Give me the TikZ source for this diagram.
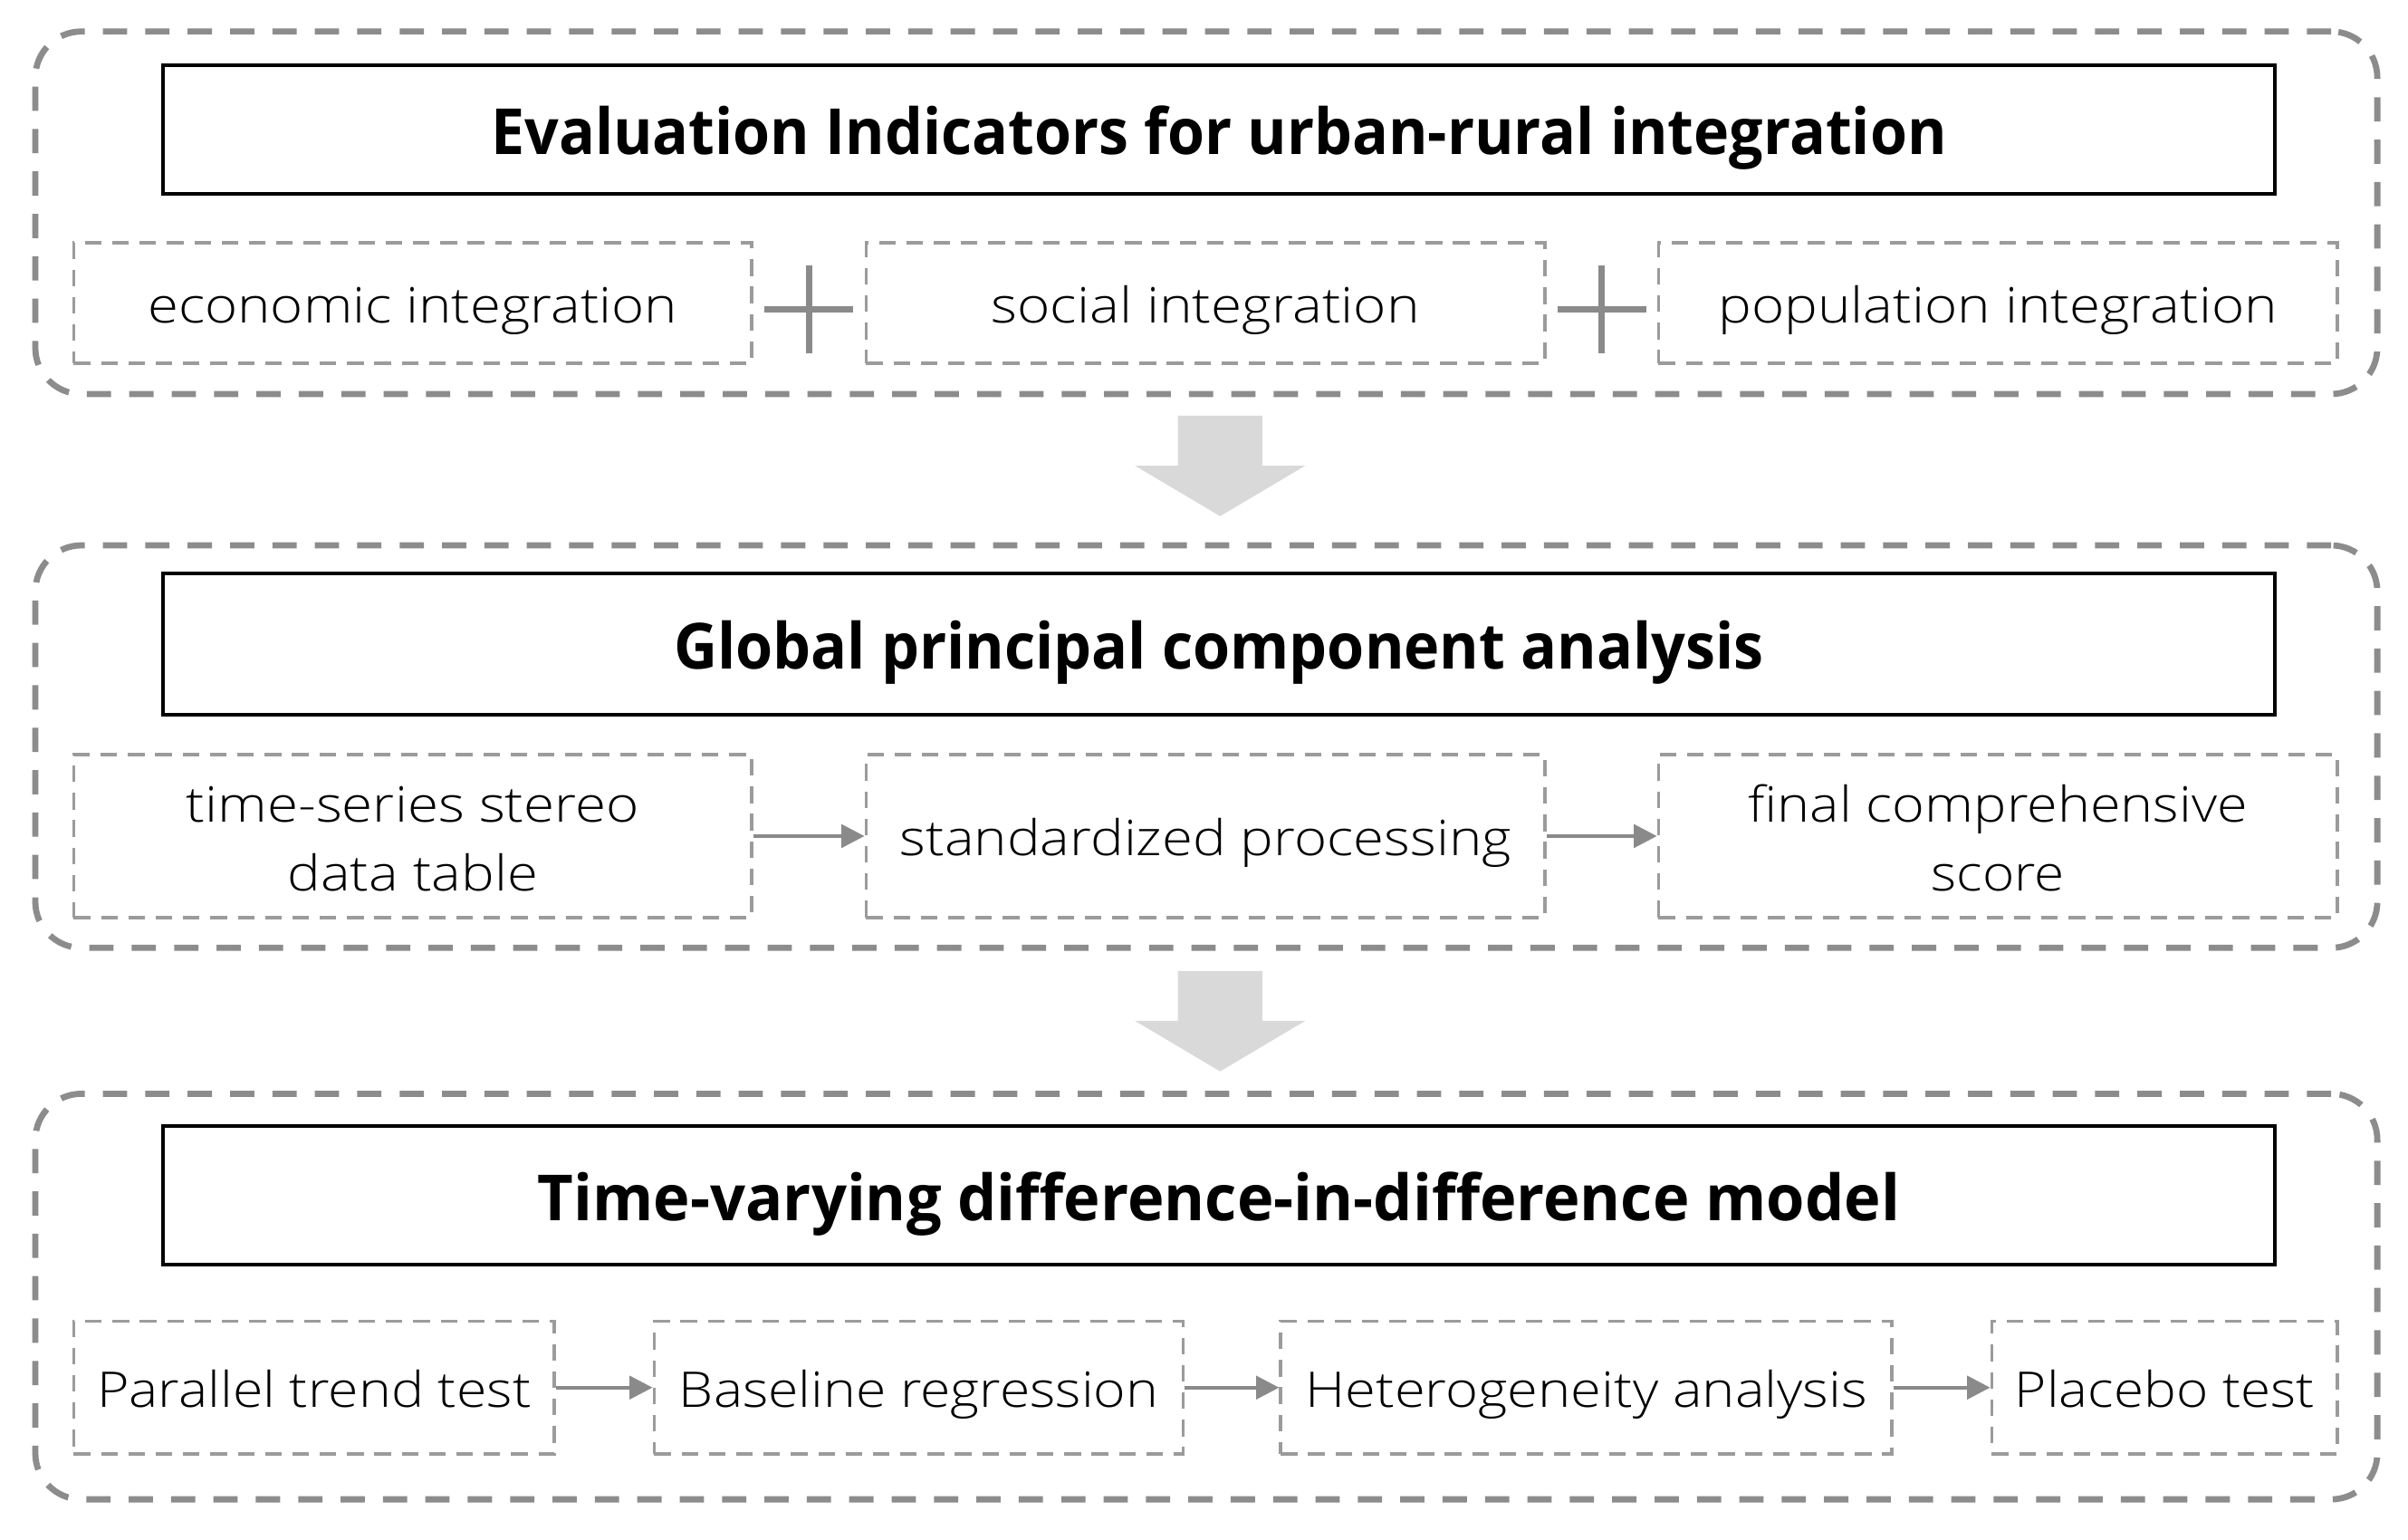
\documentclass[tikz,border=0pt]{standalone}
\usepackage{fontspec}
\IfFontExistsTF{Noto Sans Light}{\setmainfont{Noto Sans Light}}{%
  \IfFontExistsTF{Open Sans Light}{\setmainfont{Open Sans Light}}{\setmainfont{Noto Sans}}}
\IfFontExistsTF{Noto Sans Bold}{\newfontfamily\titlefont{Noto Sans Bold}}{%
  \IfFontExistsTF{Open Sans Bold}{\newfontfamily\titlefont{Open Sans Bold}}{%
    \IfFontExistsTF{Fira Sans Bold}{\newfontfamily\titlefont{Fira Sans Bold}}{%
      \newfontfamily\titlefont{Noto Sans}[FakeBold=2.2]}}}
\usepackage{graphicx}
\usetikzlibrary{calc,arrows.meta}
\definecolor{outerc}{HTML}{8C8C8C}
\definecolor{innerc}{HTML}{9B9B9B}
\definecolor{arrc}{HTML}{8A8A8A}
\definecolor{bigarr}{HTML}{D9D9D9}
\newcommand\fitw[2]{\resizebox{#1pt}{\height}{#2}}
\begin{document}
\begin{tikzpicture}[x=0.5pt,y=-0.5pt,
  outerbox/.style={draw=outerc, line width=2pt, dash pattern=on 7.9pt off 5.9pt, rounded corners=15pt, rectangle, inner sep=0pt},
  titlebox/.style={draw=black, line width=1.2pt, rectangle, inner sep=0pt, minimum width=687.75pt,
    font=\titlefont\fontsize{20.7}{24}\selectfont, text height=16.5pt, text depth=0pt},
  subbox/.style={draw=innerc, line width=1.1pt, dash pattern=on 5.4pt off 3.5pt, rectangle, inner sep=0pt,
    font=\fontsize{16}{22.5}\selectfont, text height=12.75pt, text depth=0pt},
  twoline/.style={text height=0pt, text depth=9.25pt},
  flow/.style={draw=arrc, line width=1.2pt, -{Triangle[length=7.5pt,width=7.5pt]}},
  plussign/.style={draw=arrc, line width=2pt},
  bigarrow/.style={fill=bigarr, draw=none}
]
\useasboundingbox (0,0) rectangle (1568,1002);

% ---------- block 1 ----------
\node[outerbox, minimum width=762.5pt, minimum height=118pt] (o1) at (785.5,138.5) {};
\node[titlebox, minimum height=41.75pt] (t1) at (793.75,84.25)
  {\fitw{474}{Evaluation Indicators for urban-rural integration}};
\node[subbox, minimum width=220.75pt, minimum height=39.25pt] (a1) at (268.75,197.25)
  {\fitw{172.5}{economic integration}};
\node[subbox, minimum width=221pt, minimum height=39.25pt] (b1) at (785,197.25)
  {\fitw{139.5}{social integration}};
\node[subbox, minimum width=221pt, minimum height=39.25pt] (c1) at (1301,197.25)
  {\fitw{182}{population integration}};
\draw[plussign] ($(a1.east)!0.5!(b1.west)+(0,4)$) +(-29,0) -- +(29,0) +(0,-28.5) -- +(0,28.5);
\draw[plussign] ($(b1.east)!0.5!(c1.west)+(0,4)$) +(-29,0) -- +(29,0) +(0,-28.5) -- +(0,28.5);

% ---------- big arrow 1 ----------
\coordinate (ba1) at (794.5,270.6);
\fill[bigarrow] (ba1) +(-27.5,0) -- +(27.5,0) -- +(27.5,32.5) -- +(55.5,32.5) -- +(0,65.4)
  -- +(-55.5,32.5) -- +(-27.5,32.5) -- cycle;

% ---------- block 2 ----------
\node[outerbox, minimum width=762.5pt, minimum height=131pt] (o2) at (785.5,486) {};
\node[titlebox, minimum height=46pt] (t2) at (793.75,419)
  {\fitw{355}{Global principal component analysis}};
\node[subbox, twoline, minimum width=220.75pt, minimum height=53.25pt] (a2) at (268.75,544.25)
  {\begin{tabular}[t]{@{}c@{}}\fitw{147.5}{time-series stereo}\\\fitw{81.5}{data table}\end{tabular}};
\node[subbox, minimum width=221pt, minimum height=53.25pt] (b2) at (785,544.25)
  {\fitw{199}{standardized processing}};
\node[subbox, twoline, minimum width=221pt, minimum height=53.25pt] (c2) at (1301,544.25)
  {\begin{tabular}[t]{@{}c@{}}\fitw{162.5}{final comprehensive}\\\fitw{43.5}{score}\end{tabular}};
\draw[flow] (a2) -- (b2);
\draw[flow] (b2) -- (c2);

% ---------- big arrow 2 ----------
\coordinate (ba2) at (794.5,632);
\fill[bigarrow] (ba2) +(-27.5,0) -- +(27.5,0) -- +(27.5,32.5) -- +(55.5,32.5) -- +(0,65.4)
  -- +(-55.5,32.5) -- +(-27.5,32.5) -- cycle;

% ---------- block 3 ----------
\node[outerbox, minimum width=762.5pt, minimum height=132pt] (o3) at (785.5,844) {};
\node[titlebox, minimum height=45pt] (t3) at (793.75,778)
  {\fitw{443.5}{Time-varying difference-in-difference model}};
\node[subbox, minimum width=156.5pt, minimum height=43.25pt] (a3) at (204.5,903.25)
  {\fitw{141.3}{Parallel trend test}};
\node[subbox, minimum width=172.25pt, minimum height=43.25pt] (b3) at (598.25,903.25)
  {\fitw{156}{Baseline regression}};
\node[subbox, minimum width=199pt, minimum height=43.25pt] (c3) at (1033,903.25)
  {\fitw{183}{Heterogeneity analysis}};
\node[subbox, minimum width=112.5pt, minimum height=43.25pt] (d3) at (1409.5,903.25)
  {\fitw{97.5}{Placebo test}};
\draw[flow] (a3) -- (b3);
\draw[flow] (b3) -- (c3);
\draw[flow] (c3) -- (d3);
\end{tikzpicture}
\end{document}
